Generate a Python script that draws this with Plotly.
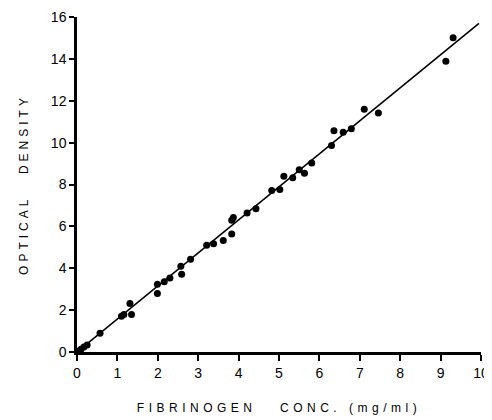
import plotly.graph_objects as go

# Measured points (fibrinogen mg/ml, optical density)
conc = [0.04, 0.10, 0.17, 0.25, 0.57, 1.10, 1.16, 1.31, 1.35, 1.99, 1.99, 2.16, 2.30,
        2.57, 2.59, 2.81, 3.21, 3.38, 3.62, 3.83, 3.83, 3.87, 4.21, 4.43, 4.82,
        5.02, 5.12, 5.34, 5.50, 5.63, 5.81, 6.30, 6.36, 6.59, 6.79, 7.11, 7.46,
        9.13, 9.31]
density = [0.05, 0.13, 0.24, 0.34, 0.89, 1.71, 1.79, 2.32, 1.79, 3.24, 2.79, 3.35, 3.54,
           4.10, 3.71, 4.43, 5.10, 5.17, 5.33, 5.63, 6.29, 6.42, 6.64, 6.84, 7.71,
           7.76, 8.40, 8.32, 8.71, 8.54, 9.03, 9.86, 10.57, 10.50, 10.66, 11.59, 11.41,
           13.89, 15.01]

# Regression line end points
fit_x = [0.0, 9.95]
fit_y = [0.0, 15.7]

x_ticks = [0, 1, 2, 3, 4, 5, 6, 7, 8, 9, 10]
y_ticks = [0, 2, 4, 6, 8, 10, 12, 14, 16]

FONT = "Liberation Sans"

fig = go.Figure()
fig.add_trace(go.Scatter(x=fit_x, y=fit_y, mode="lines",
                         line=dict(color="black", width=1.6),
                         hoverinfo="skip", cliponaxis=False))
fig.add_trace(go.Scatter(x=conc, y=density, mode="markers",
                         marker=dict(color="black", size=7),
                         cliponaxis=False))

# the page body adds an 8px margin, so the figure is sized 484x412
fig.update_layout(
    width=484, height=412,
    margin=dict(l=69, r=11, t=9, b=68),
    paper_bgcolor="white", plot_bgcolor="white",
    showlegend=False,
    font=dict(family=FONT, color="black", size=13),
    xaxis=dict(
        range=[0, 10], tickvals=x_ticks, ticktext=[str(v) for v in x_ticks],
        automargin=False,
        showgrid=False, zeroline=False, showline=True, linecolor="black", linewidth=2.5,
        ticks="outside", ticklen=6, tickwidth=2, tickcolor="black",
        tickfont=dict(family=FONT, size=14, color="black"),
        title=dict(text='<span style="letter-spacing:4.5px">FIBRINOGEN   CONC. (mg/ml)</span>',
                   font=dict(family=FONT, size=12, color="black"), standoff=25),
    ),
    yaxis=dict(
        range=[0, 16], tickvals=y_ticks, ticktext=[str(v) for v in y_ticks],
        automargin=False,
        showgrid=False, zeroline=False, showline=True, linecolor="black", linewidth=2.5,
        ticks="outside", ticklen=5, tickwidth=2, tickcolor="black",
        tickfont=dict(family=FONT, size=14, color="black"),
        title=dict(text='<span style="letter-spacing:4px">OPTICAL   DENSITY</span>',
                   font=dict(family=FONT, size=12, color="black"), standoff=20),
    ),
)

fig.write_html("out.html")
